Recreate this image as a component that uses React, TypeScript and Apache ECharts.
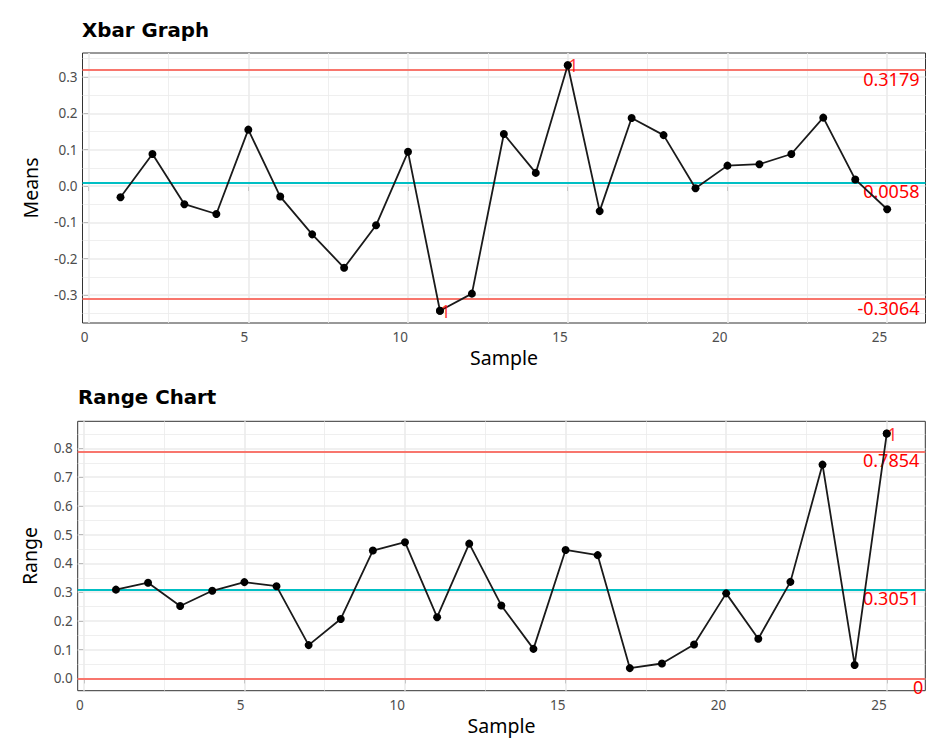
import React, { useEffect, useRef } from "react";
import * as echarts from "echarts";

const SAMPLES = [1, 2, 3, 4, 5, 6, 7, 8, 9, 10, 11, 12, 13, 14, 15, 16, 17, 18, 19, 20, 21, 22, 23, 24, 25];
const MEANS = [-0.031, 0.088, -0.05, -0.077, 0.155, -0.029, -0.133, -0.225, -0.108, 0.094, -0.343, -0.296, 0.143, 0.036, 0.332, -0.069, 0.187, 0.14, -0.006, 0.056, 0.06, 0.088, 0.188, 0.018, -0.064];
const RANGES = [0.309, 0.333, 0.252, 0.305, 0.335, 0.321, 0.116, 0.207, 0.445, 0.474, 0.213, 0.469, 0.254, 0.103, 0.447, 0.429, 0.036, 0.052, 0.118, 0.296, 0.138, 0.336, 0.744, 0.047, 0.852];

const XBAR_LIMITS = [0.3179, 0.0058, -0.3064];
const XBAR_LIMIT_LABELS = ["0.3179", "0.0058", "-0.3064"];
const RANGE_LIMITS = [0.7854, 0.3051, 0];
const RANGE_LIMIT_LABELS = ["0.7854", "0.3051", "0"];
const LIMIT_KINDS = ["limit", "center", "limit"];

const XBAR_OOC = [11, 15];
const RANGE_OOC = [25];

const X_TICKS = [0, 5, 10, 15, 20, 25];
const X_MINOR = [2.5, 7.5, 12.5, 17.5, 22.5];
const XBAR_Y_TICKS = [-0.3, -0.2, -0.1, 0, 0.1, 0.2, 0.3];
const XBAR_Y_MINOR = [-0.35, -0.25, -0.15, -0.05, 0.05, 0.15, 0.25, 0.35];
const RANGE_Y_TICKS = [0, 0.1, 0.2, 0.3, 0.4, 0.5, 0.6, 0.7, 0.8];
const RANGE_Y_MINOR = [0.05, 0.15, 0.25, 0.35, 0.45, 0.55, 0.65, 0.75, 0.85];

const FONT = "Noto Sans";
const TITLE_FONT = "DejaVu Sans";
const RED_LINE = "#F8766D";
const CYAN_LINE = "#00BFC4";
const GRID_COLOR = "#EBEBEB";

function xAxisFor(gridIndex: number, gap: number) {
  return {
    gridIndex,
    type: "value",
    min: -0.19,
    max: 26.2,
    name: "Sample",
    nameLocation: "middle",
    nameGap: gap,
    nameTextStyle: { fontSize: 19.5, color: "#000", fontFamily: FONT },
    axisLine: { show: false },
    axisTick: { show: true, customValues: X_TICKS, length: 5, lineStyle: { color: "#333", width: 1 } },
    axisLabel: {
      show: true,
      customValues: X_TICKS,
      align: "right",
      margin: 7,
      color: "#4D4D4D",
      fontSize: 13.5,
      fontFamily: FONT,
      formatter: (v: number) => String(v),
    },
    splitLine: { show: false },
  };
}

function yAxisFor(gridIndex: number, name: string, min: number, max: number, ticks: number[], gap: number) {
  return {
    gridIndex,
    type: "value",
    min,
    max,
    name,
    nameLocation: "middle",
    nameGap: gap,
    nameTextStyle: { fontSize: 19.5, color: "#000", fontFamily: FONT },
    axisLine: { show: false },
    axisTick: { show: true, customValues: ticks, length: 5, lineStyle: { color: "#333", width: 1 } },
    axisLabel: {
      show: true,
      customValues: ticks,
      margin: 5,
      color: "#4D4D4D",
      fontSize: 13.5,
      fontFamily: FONT,
      formatter: (v: number) => v.toFixed(1),
    },
    splitLine: { show: false },
  };
}

function gridSeries(idx: number, xMajor: number[], xMinor: number[], yMajor: number[], yMinor: number[]) {
  const major = { color: GRID_COLOR, width: 1.6, type: "solid" };
  const minor = { color: GRID_COLOR, width: 0.8, type: "solid" };
  return {
    type: "line",
    xAxisIndex: idx,
    yAxisIndex: idx,
    data: [],
    z: 1,
    silent: true,
    markLine: {
      silent: true,
      z: 1,
      symbol: ["none", "none"],
      label: { show: false },
      emphasis: { disabled: true },
      data: [
        ...yMinor.map((v) => ({ yAxis: v, lineStyle: minor })),
        ...xMinor.map((v) => ({ xAxis: v, lineStyle: minor })),
        ...yMajor.map((v) => ({ yAxis: v, lineStyle: major })),
        ...xMajor.map((v) => ({ xAxis: v, lineStyle: major })),
      ],
    },
  };
}

function limitSeries(idx: number, values: number[], labels: string[]) {
  return {
    type: "line",
    xAxisIndex: idx,
    yAxisIndex: idx,
    data: [],
    z: 3,
    silent: true,
    markLine: {
      silent: true,
      z: 3,
      symbol: ["none", "none"],
      emphasis: { disabled: true },
      data: values.map((v, i) => ({
        yAxis: v,
        lineStyle: { color: LIMIT_KINDS[i] === "center" ? CYAN_LINE : RED_LINE, width: 2, type: "solid" },
        label: {
          show: true,
          position: "insideEndBottom",
          distance: [labels[i].length === 1 ? 2 : 6, 0],
          formatter: labels[i],
          color: "#FF0000",
          fontSize: 18,
          fontFamily: FONT,
        },
      })),
    },
  };
}

function dataSeries(idx: number, values: number[]) {
  return {
    type: "line",
    xAxisIndex: idx,
    yAxisIndex: idx,
    data: SAMPLES.map((s, i) => [s, values[i]]),
    z: 10,
    symbol: "circle",
    symbolSize: 8,
    showSymbol: true,
    itemStyle: { color: "#000" },
    lineStyle: { color: "#1a1a1a", width: 1.8 },
    silent: true,
  };
}

function oocSeries(idx: number, values: number[], ooc: number[]) {
  return {
    type: "scatter",
    xAxisIndex: idx,
    yAxisIndex: idx,
    data: ooc.map((s) => [s, values[SAMPLES.indexOf(s)]]),
    z: 11,
    symbol: "circle",
    symbolSize: 8,
    itemStyle: { color: "#000" },
    silent: true,
    label: {
      show: true,
      position: "right",
      distance: -3.5,
      formatter: "1",
      color: "#FF0000",
      fontSize: 18,
      fontFamily: FONT,
    },
  };
}

export default function App() {
  const ref = useRef<HTMLDivElement>(null);
  useEffect(() => {
    if (!ref.current) return;
    const chart = echarts.init(ref.current, undefined, { renderer: "svg" });
    chart.setOption({
      animation: false,
      backgroundColor: "#ffffff",
      textStyle: { fontFamily: FONT },
      title: [
        {
          text: "Xbar Graph",
          left: 82,
          top: 20.5,
          padding: 0,
          textStyle: { fontSize: 19.8, fontWeight: "bold", color: "#000", fontFamily: TITLE_FONT },
        },
        {
          text: "Range Chart",
          left: 78,
          top: 387.5,
          padding: 0,
          textStyle: { fontSize: 19.8, fontWeight: "bold", color: "#000", fontFamily: TITLE_FONT },
        },
      ],
      grid: [
        { left: 82.5, top: 53, width: 843, height: 270, show: true, borderColor: "#333", borderWidth: 1, backgroundColor: "transparent", containLabel: false },
        { left: 77.7, top: 421.3, width: 847.6, height: 269.4, show: true, borderColor: "#333", borderWidth: 1, backgroundColor: "transparent", containLabel: false },
      ],
      xAxis: [xAxisFor(0, 24), xAxisFor(1, 24.5)],
      yAxis: [
        yAxisFor(0, "Means", -0.37675, 0.36575, XBAR_Y_TICKS, 42.5),
        yAxisFor(1, "Range", -0.0426, 0.8946, RANGE_Y_TICKS, 38),
      ],
      series: [
        gridSeries(0, X_TICKS, X_MINOR, XBAR_Y_TICKS, XBAR_Y_MINOR),
        gridSeries(1, X_TICKS, X_MINOR, RANGE_Y_TICKS, RANGE_Y_MINOR),
        limitSeries(0, XBAR_LIMITS, XBAR_LIMIT_LABELS),
        limitSeries(1, RANGE_LIMITS, RANGE_LIMIT_LABELS),
        dataSeries(0, MEANS),
        dataSeries(1, RANGES),
        oocSeries(0, MEANS, XBAR_OOC),
        oocSeries(1, RANGES, RANGE_OOC),
      ],
    });
    return () => chart.dispose();
  }, []);
  return <div ref={ref} style={{ position: "fixed", left: 0, top: 0, width: 951, height: 748, background: "#fff" }} />;
}
